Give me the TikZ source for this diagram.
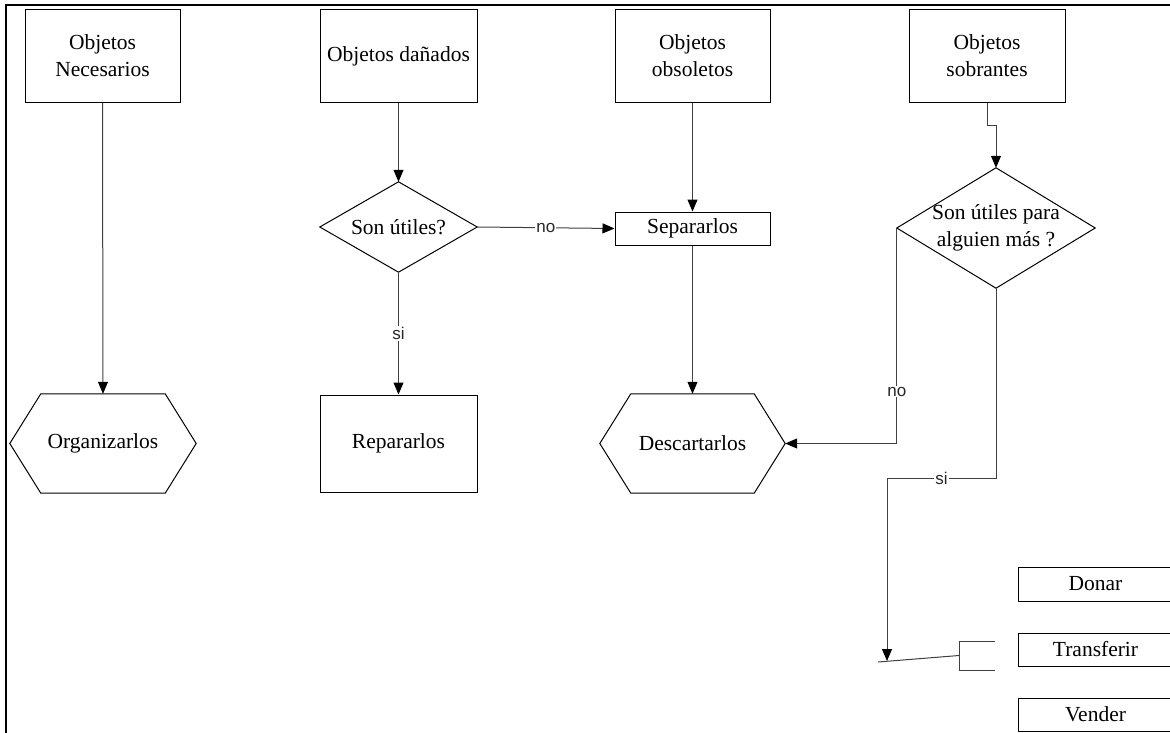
\documentclass[tikz,border=0pt]{standalone}
\usepackage{fontspec}
\setmainfont{Liberation Serif}
\newfontfamily\lblsans{Liberation Sans}
\usetikzlibrary{arrows.meta,calc}
\tikzset{
  box/.style={draw=black, line width=1pt, rectangle, inner sep=2pt, align=center,
    font=\fontsize{21.5}{27}\selectfont},
  ghost/.style={rectangle, inner sep=2pt, align=center, font=\fontsize{21.5}{27}\selectfont},
  shapeline/.style={draw=black, line width=1pt},
  conn/.style={draw=black!75, line width=1pt},
  arr/.style={conn, -{Triangle[length=12pt,width=10pt,color=black,fill=black]}},
  lbl/.style={font=\lblsans\fontsize{17}{17}\selectfont, fill=white, inner sep=1pt, text=black!85},
}
\begin{document}
\begin{tikzpicture}[x=1pt,y=-1pt]
\clip (0,0) rectangle (1170,733);
\fill[white] (0,0) rectangle (1170,733);
% frame
\draw[line width=2pt] (6,733) -- (6,5) -- (1172,5);

% top boxes
\node[box, minimum width=155pt, minimum height=93pt] (nec) at (102.5,56) {Objetos\\Necesarios};
\node[box, minimum width=157pt, minimum height=93pt] (dan) at (398.5,56) {Objetos dañados};
\node[box, minimum width=155pt, minimum height=93pt] (obs) at (692.5,56) {Objetos\\obsoletos};
\node[box, minimum width=156pt, minimum height=93pt] (sob) at (987,56) {Objetos\\sobrantes};

% hexagons
\node[ghost, minimum width=186pt, minimum height=99pt] (org) at (103,443.5) {Organizarlos};
\draw[shapeline] (org.west) -- ([xshift=31pt]org.north west) -- ([xshift=-31pt]org.north east) -- (org.east) -- ([xshift=-31pt]org.south east) -- ([xshift=31pt]org.south west) -- cycle;
\node[ghost, minimum width=185pt, minimum height=99pt] (desc) at (692.5,443.5) {Descartarlos};
\draw[shapeline] (desc.west) -- ([xshift=31pt]desc.north west) -- ([xshift=-31pt]desc.north east) -- (desc.east) -- ([xshift=-31pt]desc.south east) -- ([xshift=31pt]desc.south west) -- cycle;

% diamonds
\node[ghost, minimum width=157pt, minimum height=90pt] (d1) at (398.5,227) {Son útiles?};
\draw[shapeline] (d1.west) -- (d1.north) -- (d1.east) -- (d1.south) -- cycle;
\node[ghost, minimum width=198pt, minimum height=120pt] (d2) at (996,228) {Son útiles para\\alguien más ?};
\draw[shapeline] (d2.west) -- (d2.north) -- (d2.east) -- (d2.south) -- cycle;

% other boxes
\node[box, minimum width=155pt, minimum height=33pt] (sep) at (692.5,228.5) {Separarlos};
\node[box, minimum width=157pt, minimum height=97pt] (rep) at (398.5,443.5) {Repararlos};
\node[box, minimum width=155pt, minimum height=34pt] (don) at (1095.5,584) {Donar};
\node[box, minimum width=155pt, minimum height=33pt] (tra) at (1095.5,649.5) {Transferir};
\node[box, minimum width=155pt, minimum height=33pt] (ven) at (1095.5,714.5) {Vender};

% connectors
\draw[arr] (nec.south) -- (org.north);
\draw[arr] (dan.south) -- (d1.north);
\draw[arr] (d1.east) -- node[lbl]{no} (sep.west);
\draw[arr] (d1.south) -- node[lbl]{si} (rep.north);
\draw[arr] (obs.south) -- (sep.north);
\draw[arr] (sep.south) -- (desc.north);
\draw[arr] (d2.west) |- node[lbl, pos=0.38]{no} (desc.east);
\draw[arr] (sob.south) -- ++(0,23) -| (d2.north);
\coordinate (c1) at (887,478);
\coordinate (siend) at (887,661);
\draw[arr] (d2.south) |- node[lbl, pos=0.75]{si} (c1) -- (siend);

% bracket and slanted line
\coordinate (s1) at (878,662);
\coordinate (bm) at (959,655.5);
\coordinate (bt) at (959,641);
\coordinate (bb) at (959,670);
\coordinate (bte) at (995,641);
\coordinate (bbe) at (995,670);
\draw[conn] (s1) -- (bm);
\draw[conn] (bte) -- (bt) -- (bb) -- (bbe);
\end{tikzpicture}
\end{document}
